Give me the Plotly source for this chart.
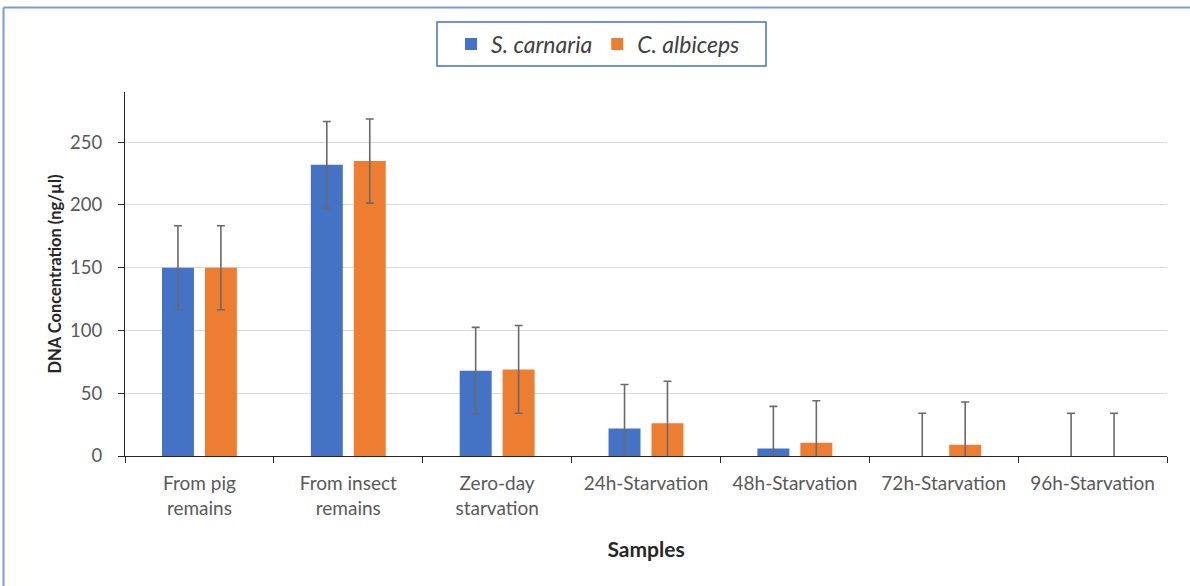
import plotly.graph_objects as go

categories = ["From pig<br>remains", "From insect<br>remains", "Zero-day<br>starvation",
              "24h-Starvation", "48h-Starvation", "72h-Starvation", "96h-Starvation"]
s_carnaria = [150, 232, 68, 22, 6, 0, 0]
s_carnaria_err = [33.5, 34.5, 34.5, 35, 33.5, 34, 34]
c_albiceps = [150, 235, 69, 26, 10.5, 9, 0]
c_albiceps_err = [33.5, 33.5, 35, 33.5, 33.5, 34, 34]
y_ticks = [0, 50, 100, 150, 200, 250]

BLUE = "#4472C4"
ORANGE = "#ED7D31"
FONT = "Lato"

fig = go.Figure()
fig.add_trace(go.Bar(
    x=categories, y=s_carnaria, name="<i>S. carnaria</i>",
    marker=dict(color=BLUE, line=dict(width=0)),
    error_y=dict(type="data", array=s_carnaria_err, visible=True,
                 color="#6a6a6a", thickness=1.6, width=4),
))
fig.add_trace(go.Bar(
    x=categories, y=c_albiceps, name="<i>C. albiceps</i>",
    marker=dict(color=ORANGE, line=dict(width=0)),
    error_y=dict(type="data", array=c_albiceps_err, visible=True,
                 color="#6a6a6a", thickness=1.6, width=4),
))

L, R, T, B = 125, 23, 92, 130
W, H = 1190, 586
pw, ph = W - L - R, H - T - B

def px_x(p):
    return (p - L) / pw

def px_y(p):
    return (H - B - p) / ph

fig.update_layout(
    width=W, height=H,
    margin=dict(l=L, r=R, t=T, b=B, pad=0),
    paper_bgcolor="white", plot_bgcolor="white",
    barmode="group", bargap=0.423, bargroupgap=0.256,
    font=dict(family=FONT, size=18, color="#595959"),
    showlegend=True,
    legend=dict(orientation="h", x=px_x(598), y=px_y(44), xanchor="center", yanchor="middle",
                font=dict(family=FONT, size=23, color="#404040"),
                bgcolor="rgba(0,0,0,0)", borderwidth=0, itemwidth=30),
    xaxis=dict(
        showline=True, linecolor="#262626", linewidth=1.3,
        ticks="outside", tickson="boundaries", ticklen=6, tickcolor="#262626",
        showgrid=False,
        tickfont=dict(family=FONT, size=19, color="#595959"),
        ticklabelstandoff=10,
        title=dict(text="<b>Samples</b>", font=dict(family=FONT, size=21, color="#262626"), standoff=24),
    ),
    yaxis=dict(
        range=[0, 290], tickvals=y_ticks,
        showline=True, linecolor="#262626", linewidth=1.3,
        ticks="outside", ticklen=6, tickcolor="#262626",
        showgrid=True, gridcolor="#d9d9d9", gridwidth=1,
        zeroline=False,
        tickfont=dict(family=FONT, size=18.5, color="#595959"),
        ticklabelstandoff=12,
        title=dict(text="<b>DNA Concentration (ng/µl)</b>", font=dict(family=FONT, size=16.5, color="#262626"), standoff=4),
    ),
    shapes=[
        dict(type="rect", xref="paper", yref="paper",
             x0=px_x(437), x1=px_x(766), y0=px_y(66), y1=px_y(22),
             line=dict(color=BLUE, width=1.5), fillcolor="rgba(0,0,0,0)"),
        dict(type="line", xref="paper", yref="paper",
             x0=px_x(3.5), x1=px_x(3.5), y0=px_y(590), y1=px_y(7.5),
             line=dict(color="#7f9ad6", width=2)),
        dict(type="line", xref="paper", yref="paper",
             x0=px_x(3.5), x1=px_x(1195), y0=px_y(7.5), y1=px_y(7.5),
             line=dict(color="#7f9ad6", width=2)),
    ],
)

fig.write_html("out.html", config={"displayModeBar": False},
               post_script="document.body.style.margin='0';document.body.style.overflow='hidden';")
